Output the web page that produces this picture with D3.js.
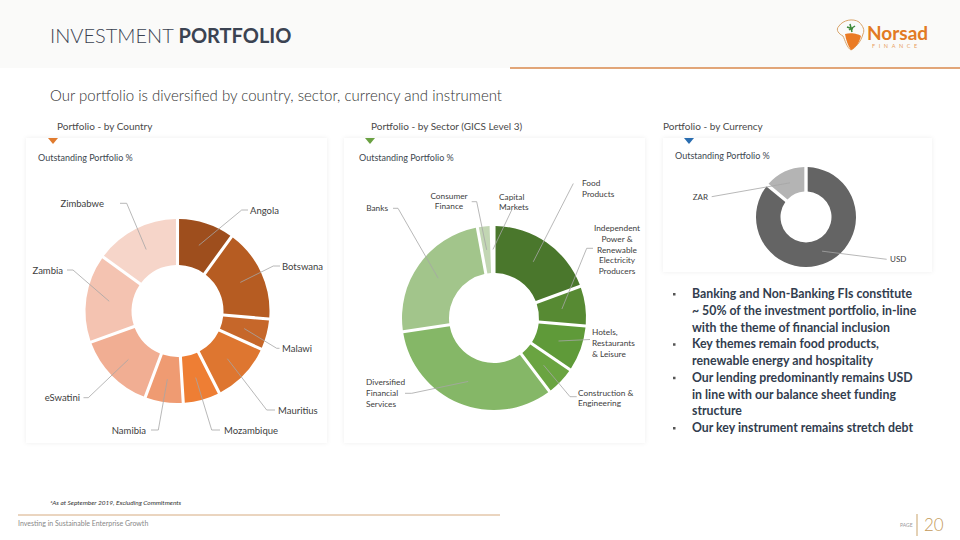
<!DOCTYPE html>
<html>
<head>
<meta charset="utf-8">
<script src="https://cdn.jsdelivr.net/npm/d3@7"></script>
<style>
  body { margin: 0; background: #fff; }
  svg { display: block; font-family: Lato, "Open Sans", sans-serif; }
</style>
</head>
<body>
<div id="content"></div>
<script>
// data
const countries = ["Angola", "Botswana", "Malawi", "Mauritius", "Mozambique", "Namibia", "eSwatini", "Zambia", "Zimbabwe"];
const countryShare = [10.0, 16.4, 5.4, 10.7, 6.5, 6.7, 13.8, 15.5, 15.0];

const sectors = ["Food\nProducts", "Independent\nPower &\nRenewable\nElectricity\nProducers", "Hotels,\nRestaurants\n& Leisure",
  "Construction &\nEngineering", "Diversified\nFinancial\nServices", "Banks", "Consumer\nFinance", "Capital\nMarkets"];
const sectorShare = [19.4, 7.0, 8.1, 5.2, 32.9, 24.5, 2.4, 0.5];

const currencies = ["USD", "ZAR"];
const currencyShare = [86, 14];

const bullets = [
  ["Banking and Non-Banking FIs constitute", "~ 50% of the investment portfolio, in-line", "with the theme of financial inclusion"],
  ["Key themes remain food products,", "renewable energy and hospitality"],
  ["Our lending predominantly remains USD", "in line with our balance sheet funding", "structure"],
  ["Our key instrument remains stretch debt"]
];

// styles
const countryColors = ["#9e4e1d", "#b65c22", "#c6672a", "#de7630", "#ee7e34", "#ef9b72", "#f1ae93", "#f4c3b1", "#f6d5c9"];
const sectorColors = ["#4a772c", "#578a33", "#5f9a39", "#6aa441", "#85b767", "#a2c58b", "#c2d6b3", "#e3ecda"];
const currencyColors = ["#646464", "#b4b4b4"];

// label layout (page coords): knee/end of leader line, text anchor
const countryLabels = [
  {knee: [241.7, 210], end: [248, 210], text: [250, 213.5], anchor: "start"},
  {knee: [273.3, 266], end: [280, 266], text: [282, 269.5], anchor: "start"},
  {knee: [276.7, 348.3], end: [279.5, 348.3], text: [282, 351.8], anchor: "start"},
  {knee: [266.7, 410], end: [275, 410], text: [278, 413.5], anchor: "start"},
  {knee: [211.7, 430], end: [220, 430], text: [224, 433.5], anchor: "start"},
  {knee: [158.3, 430], end: [151, 430], text: [146, 433.5], anchor: "end"},
  {knee: [88.3, 397.7], end: [83.5, 397.7], text: [80, 401.2], anchor: "end"},
  {knee: [73, 270], end: [67, 270], text: [63, 273.5], anchor: "end"},
  {knee: [126.7, 203.3], end: [120, 203.3], text: [104, 206.8], anchor: "end"}
];
const sectorLabels = [
  {knee: [573.3, 183.5], end: [573.3, 183.5], text: [582, 186], anchor: "start"},
  {knee: [586.7, 248.3], end: [593, 248.3], text: [617, 231], anchor: "middle"},
  {knee: [590, 339.5], end: [590, 339.5], text: [592, 335], anchor: "start"},
  {knee: [570, 396.7], end: [576.7, 396.7], text: [578, 395.5], anchor: "start"},
  {knee: [411.7, 393.3], end: [405, 393.3], text: [366, 385], anchor: "start"},
  {knee: [398, 208.3], end: [393, 208.3], text: [388, 211], anchor: "end"},
  {knee: [476.7, 201.7], end: [471.7, 201.7], text: [449, 198.5], anchor: "middle"},
  {knee: [511.7, 210], end: [511.7, 210], text: [499, 199.5], anchor: "start"}
];
const currencyLabels = [
  {knee: [886.7, 259.3], end: [886.7, 259.3], text: [890, 262], anchor: "start"},
  {knee: [711.7, 196.7], end: [711.7, 196.7], text: [708, 199.5], anchor: "end"}
];

const w = 960, h = 540;
const svg = d3.select("#content").append("svg").attr("width", w).attr("height", h);

const defs = svg.append("defs");
const sh = defs.append("filter").attr("id", "shadow").attr("x", "-5%").attr("y", "-5%").attr("width", "110%").attr("height", "110%");
sh.append("feDropShadow").attr("dx", 0).attr("dy", 0).attr("stdDeviation", 2).attr("flood-color", "#000").attr("flood-opacity", 0.07);

// header band
svg.append("rect").attr("x", 0).attr("y", 0).attr("width", w).attr("height", 68).attr("fill", "#fafaf9");
svg.append("line").attr("x1", 510).attr("x2", w).attr("y1", 68).attr("y2", 68).attr("stroke", "#d8894c").attr("stroke-width", 1.5);

const title = svg.append("text").attr("x", 50).attr("y", 43).attr("font-size", 20).attr("fill", "#3b4352");
title.append("tspan").attr("font-weight", 300).text("INVESTMENT ");
title.append("tspan").attr("font-weight", 700).text("PORTFOLIO");

// logo
const logo = svg.append("g").attr("transform", "translate(835,18)");
logo.append("path").attr("d", "M4,8 C8,2 18,0 24,4 C28,8 30,12 28,16 C26,24 20,30 16,32 C12,30 10,22 8,18 C4,16 0,12 4,8 Z")
  .attr("fill", "none").attr("stroke", "#d9a46a").attr("stroke-width", 1);
logo.append("path").attr("d", "M10,16 C16,14 24,16 26,18 C24,26 20,30 16,32 C13,28 11,22 10,16 Z").attr("fill", "#ea7b25");
logo.append("path").attr("d", "M15,6 L17,14 M12,9 L18,11 M14,12 L20,8").attr("stroke", "#3f8a3a").attr("stroke-width", 1.5);
logo.append("text").attr("x", 32).attr("y", 22).attr("font-size", 19).attr("font-weight", 700).attr("fill", "#e27a24").text("Norsad");
logo.append("text").attr("x", 37).attr("y", 30).attr("font-size", 5.5).attr("letter-spacing", 3.6).attr("fill", "#e8a060").text("FINANCE");

svg.append("text").attr("x", 50).attr("y", 101).attr("font-size", 15).attr("font-weight", 300).attr("fill", "#333")
  .text("Our portfolio is diversified by country, sector, currency and instrument");

// cards
const cards = [
  {x: 26, y: 138, w: 301, h: 305, head: "Portfolio - by Country", hx: 57, tri: 53, col: "#e07b2e"},
  {x: 344, y: 138, w: 301, h: 305, head: "Portfolio - by Sector (GICS Level 3)", hx: 371, tri: 370, col: "#6aa142"},
  {x: 663, y: 138, w: 269, h: 134, head: "Portfolio - by Currency", hx: 663, tri: 689, col: "#2a6db0"}
];
cards.forEach(c => {
  svg.append("rect").attr("x", c.x).attr("y", c.y).attr("width", c.w).attr("height", c.h)
    .attr("fill", "#fff").attr("filter", "url(#shadow)");
  svg.append("text").attr("x", c.hx).attr("y", 130).attr("font-size", 10).attr("fill", "#4a4a4a").text(c.head);
  svg.append("path").attr("d", `M${c.tri - 5},${c.y} L${c.tri + 5},${c.y} L${c.tri},${c.y + 6} Z`).attr("fill", c.col);
});
[[38, 161], [359, 161], [675, 159]].forEach(p => {
  svg.append("text").attr("x", p[0]).attr("y", p[1]).attr("font-size", 9).attr("fill", "#404850").text("Outstanding Portfolio %");
});

function donut(cx, cy, rOut, rIn, names, values, colors, pad, labels, fs, lh) {
  const data = names.map((n, i) => ({name: n, v: values[i]}));
  const pie = d3.pie().sort(null).value(d => d.v);
  const arc = d3.arc().innerRadius(rIn).outerRadius(rOut).padAngle(pad);
  const g = svg.append("g").attr("transform", `translate(${cx},${cy})`);
  const arcs = pie(data);
  g.selectAll("path").data(arcs).enter().append("path")
    .attr("d", arc).attr("fill", (d, i) => colors[i]);

  const lab = svg.append("g");
  arcs.forEach((d, i) => {
    const c = arc.centroid(d);
    const L = labels[i];
    lab.append("polyline")
      .attr("points", [[cx + c[0], cy + c[1]], L.knee, L.end].map(p => p.join(",")).join(" "))
      .attr("fill", "none").attr("stroke", "#a6a6a6").attr("stroke-width", 0.8);
    const t = lab.append("text").attr("x", L.text[0]).attr("y", L.text[1])
      .attr("text-anchor", L.anchor).attr("font-size", fs).attr("fill", "#404040");
    d.data.name.split("\n").forEach((s, j) => {
      t.append("tspan").attr("x", L.text[0]).attr("dy", j ? lh : 0).text(s);
    });
  });
}

donut(177.5, 311, 92, 46, countries, countryShare, countryColors, 0.03, countryLabels, 9.5, 11);
donut(494, 318, 92, 45, sectors, sectorShare, sectorColors, 0.03, sectorLabels, 8.3, 10.8);
donut(806, 217, 50, 25.5, currencies, currencyShare, currencyColors, 0.06, currencyLabels, 8, 10);

// bullets
const bt = svg.append("g").attr("font-size", 12.3).attr("font-weight", 700).attr("fill", "#323d4e");
let line = 0;
bullets.forEach(b => {
  const y0 = 298 + line * 16.75;
  bt.append("rect").attr("x", 673).attr("y", y0 - 5).attr("width", 2.5).attr("height", 2.5).attr("fill", "#555");
  b.forEach(s => {
    bt.append("text").attr("x", 692).attr("y", 298 + line * 16.75).text(s);
    line++;
  });
});

// footer
svg.append("text").attr("x", 50).attr("y", 505).attr("font-size", 6.5).attr("font-style", "italic").attr("fill", "#333")
  .text("*As at September 2019, Excluding Commitments");
svg.append("line").attr("x1", 18).attr("x2", 500).attr("y1", 515).attr("y2", 515).attr("stroke", "#d6ab80").attr("stroke-width", 1);
svg.append("text").attr("x", 18).attr("y", 526).attr("font-size", 7).attr("fill", "#888").text("Investing in Sustainable Enterprise Growth");
svg.append("text").attr("x", 900).attr("y", 527).attr("font-size", 5).attr("fill", "#999").text("PAGE");
svg.append("line").attr("x1", 917).attr("x2", 917).attr("y1", 514).attr("y2", 536).attr("stroke", "#c9a36a").attr("stroke-width", 1);
svg.append("text").attr("x", 924).attr("y", 531).attr("font-size", 17).attr("font-weight", 300).attr("fill", "#c49a5a").text("20");
</script>
</body>
</html>
